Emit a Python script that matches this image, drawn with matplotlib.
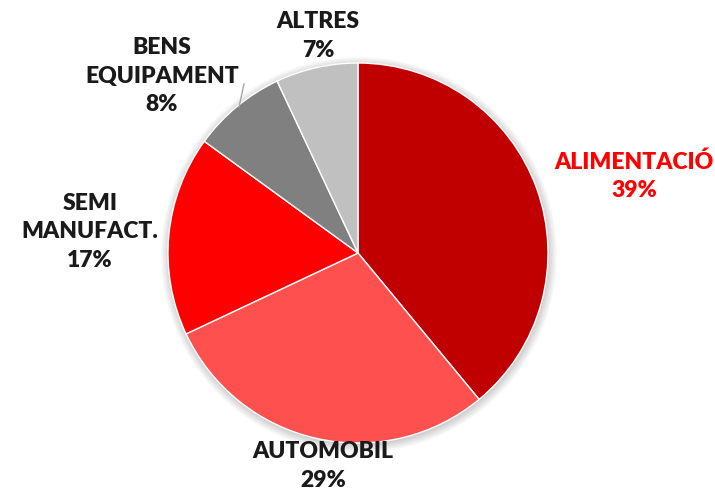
import matplotlib
matplotlib.use("Agg")
import matplotlib.pyplot as plt
from matplotlib.patches import Circle

categories = ["ALIMENTACIÓ", "AUTOMOBIL", "SEMI\nMANUFACT.", "BENS\nEQUIPAMENT", "ALTRES"]
values = [39, 29, 17, 8, 7]
colors = ["#C00000", "#FF5050", "#FF0000", "#808080", "#C0C0C0"]
label_colors = ["#FF0000", "#1A1A1A", "#1A1A1A", "#1A1A1A", "#1A1A1A"]
# label block centres in pixels of the original image
label_px = [(634, 176), (323, 466), (90, 232), (162, 76), (318, 36)]

plt.rcParams["font.family"] = ["Lato", "DejaVu Sans"]

W, H = 715, 492
cx, cy, r = 358, 253, 190
fig = plt.figure(figsize=(W / 100, H / 100), dpi=100)
ax = fig.add_axes([(cx - r) / W, (H - cy - r) / H, 2 * r / W, 2 * r / H])
ax.set_xlim(-1, 1)
ax.set_ylim(-1, 1)
ax.set_aspect("equal")
ax.axis("off")

# soft shadow around the pie
for i in range(8):
    ax.add_patch(Circle((0.005, -0.01), 1 + 0.006 * i, color="black",
                        alpha=0.025, lw=0, zorder=0, clip_on=False))

ax.pie(values, colors=colors, startangle=90, counterclock=False, radius=1,
       wedgeprops=dict(edgecolor="white", linewidth=1))
ax.set_xlim(-1, 1)
ax.set_ylim(-1, 1)


def to_data(px, py):
    return (px - cx) / r, (cy - py) / r


for cat, v, (px, py), c in zip(categories, values, label_px, label_colors):
    x, y = to_data(px, py)
    ax.text(x, y, f"{cat}\n{v}%", ha="center", va="center", fontsize=16.5,
            fontweight="heavy", color=c, linespacing=1.42, clip_on=False)

# leader line for BENS EQUIPAMENT
x0, y0 = to_data(244, 84)
x1, y1 = to_data(239, 107)
ax.plot([x0, x1], [y0, y1], color="#A6A6A6", lw=1, clip_on=False)

fig.savefig("out.png", dpi=100)
